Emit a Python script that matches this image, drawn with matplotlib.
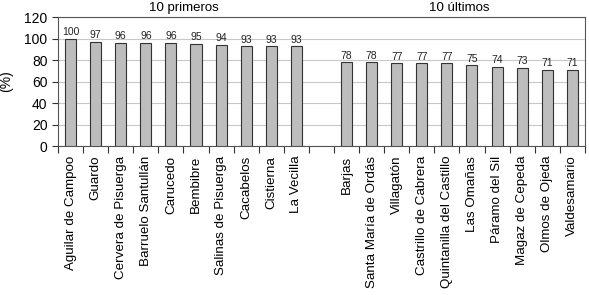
import matplotlib.pyplot as plt
import numpy as np

plt.rcParams['font.family'] = ['Liberation Sans', 'DejaVu Sans']

# datos
primeros = ['Aguilar de Campoo', 'Guardo', 'Cervera de Pisuerga', 'Barruelo Santullán',
            'Carucedo', 'Bembibre', 'Salinas de Pisuerga', 'Cacabelos', 'Cistierna', 'La Vecilla']
val_primeros = [100, 97, 96, 96, 96, 95, 94, 93, 93, 93]
ultimos = ['Barjas', 'Santa María de Ordás', 'Villagatón', 'Castrillo de Cabrera',
           'Quintanilla del Castillo', 'Las Omañas', 'Páramo del Sil', 'Magaz de Cepeda',
           'Olmos de Ojeda', 'Valdesamario']
val_ultimos = [78, 78, 77, 77, 77, 75, 74, 73, 71, 71]
yticks = [0, 20, 40, 60, 80, 100, 120]

nombres = primeros + [''] + ultimos
valores = val_primeros + [None] + val_ultimos
x = np.arange(len(nombres))

fig = plt.figure(figsize=(5.89, 2.95), dpi=100)
ax = fig.add_axes([0.0985, 0.505, 0.8945, 0.437])

for xi, v in zip(x, valores):
    if v is None:
        continue
    ax.bar(xi, v, width=0.44, color='#bdbdbd', edgecolor='#333333', linewidth=0.8, zorder=3)
    ax.text(xi, v + 1.5, str(v), ha='center', va='bottom', fontsize=7.5, color='#222222')

ax.set_xlim(-0.5, len(nombres) - 0.5)
ax.set_ylim(0, 120)
ax.set_yticks(yticks)
ax.yaxis.grid(True, color='#c8c8c8', linewidth=0.8, zorder=0)

# ticks en los límites, etiquetas en el centro
ax.set_xticks(np.arange(-0.5, len(nombres), 1))
ax.set_xticklabels([])
ax.set_xticks(x, minor=True)
ax.set_xticklabels(nombres, minor=True, rotation=90, fontsize=9.6)
ax.tick_params(axis='x', which='minor', length=0, pad=7)
ax.tick_params(axis='x', which='major', length=5, color='#333333', width=0.8)
ax.tick_params(axis='y', length=4, color='#333333', width=0.8, labelsize=10)

for s in ax.spines.values():
    s.set_color('#555555')
    s.set_linewidth(0.8)

ax.set_ylabel('(%)', fontsize=10, labelpad=8)

ax.text(4.5, 123, '10 primeros', ha='center', va='bottom', fontsize=9.5)
ax.text(15.5, 123, '10 últimos', ha='center', va='bottom', fontsize=9.5)

fig.savefig('out.png', dpi=100)
